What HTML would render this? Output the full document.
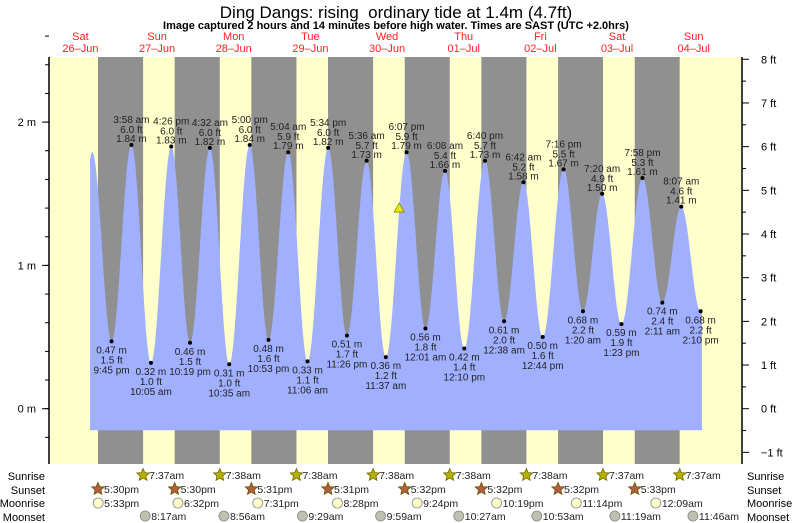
<!DOCTYPE html>
<html><head><meta charset="utf-8"><style>
body{margin:0;background:#fff}
svg{display:block;font-family:"Liberation Sans",sans-serif}
</style></head><body>
<svg id="c" width="793" height="523" viewBox="0 0 793 523">
<text x="396" y="18" font-size="17" text-anchor="middle">Ding Dangs: rising &#160;ordinary tide at 1.4m (4.7ft)</text>
<text x="396" y="29" font-size="11" font-weight="bold" text-anchor="middle">Image captured 2 hours and 14 minutes before high water. Times are SAST (UTC +2.0hrs)</text>
<g id="bg"></g><g id="water"></g><g id="labels"></g><g id="axes"></g><g id="astro"></g>
</svg>
<script>
// hours since Sat 26-Jun 00:00
const dayNames=["Sat","Sun","Mon","Tue","Wed","Thu","Fri","Sat","Sun"];
const dayDates=["26\u2013Jun","27\u2013Jun","28\u2013Jun","29\u2013Jun","30\u2013Jun","01\u2013Jul","02\u2013Jul","03\u2013Jul","04\u2013Jul"];
const tideTimes=["Sat 9:40 am","Sat 3:42 pm","9:45 pm","3:58 am","10:05 am","4:26 pm","10:19 pm","4:32 am","10:35 am","5:00 pm","10:53 pm","5:04 am","11:06 am","5:34 pm","11:26 pm","5:36 am","11:37 am","6:07 pm","12:01 am","6:08 am","12:10 pm","6:40 pm","12:38 am","6:42 am","12:44 pm","7:16 pm","1:20 am","7:20 am","1:23 pm","7:58 pm","2:11 am","8:07 am","2:10 pm","8:30 pm"];
const tideDay=[0,0,0,1,1,1,1,2,2,2,2,3,3,3,3,4,4,4,5,5,5,5,6,6,6,6,7,7,7,7,8,8,8,8];
const tideM=[0.33,1.79,0.47,1.84,0.32,1.83,0.46,1.82,0.31,1.84,0.48,1.79,0.33,1.82,0.51,1.73,0.36,1.79,0.56,1.66,0.42,1.73,0.61,1.58,0.50,1.67,0.68,1.50,0.59,1.61,0.74,1.41,0.68,1.6];
const tideFt=["","","1.5","6.0","1.0","6.0","1.5","6.0","1.0","6.0","1.6","5.9","1.1","6.0","1.7","5.7","1.2","5.9","1.8","5.4","1.4","5.7","2.0","5.2","1.6","5.5","2.2","4.9","1.9","5.3","2.4","4.6","2.2",""];
const sunriseT=["7:37am","7:38am","7:38am","7:38am","7:38am","7:38am","7:37am","7:37am"];
const sunriseD=[1,2,3,4,5,6,7,8];
const sunsetT=["5:30pm","5:30pm","5:31pm","5:31pm","5:32pm","5:32pm","5:32pm","5:33pm"];
const sunsetD=[0,1,2,3,4,5,6,7];
const moonriseT=["5:33pm","6:32pm","7:31pm","8:28pm","9:24pm","10:19pm","11:14pm","12:09am"];
const moonriseD=[0,1,2,3,4,5,6,8];
const moonsetT=["8:17am","8:56am","9:29am","9:59am","10:27am","10:53am","11:19am","11:46am"];
const moonsetD=[1,2,3,4,5,6,7,8];
const mTicks=[0,1,2];
const ftTicks=[-1,0,1,2,3,4,5,6,7,8];
const curStart=15.0, curEnd=206.6, nowH=111.8, nowM=1.4;

const NS="http://www.w3.org/2000/svg";
const L=49,R=742,T=57,B=464;
function X(h){return 98+(h-17.5)*3.194;}
function Y(m){return 408.7-m*143.3;}
function parseT(s){const p=s.replace(/^\w+ /,'').match(/(\d+):(\d+)\s*(am|pm)/);let hh=+p[1]%12;if(p[3]=='pm')hh+=12;return hh+(+p[2])/60;}
function el(tag,a,par){const e=document.createElementNS(NS,tag);for(const k in a)e.setAttribute(k,a[k]);document.getElementById(par).appendChild(e);return e;}
function tx(x,y,s,a,par,size,fill){const e=el('text',Object.assign({x:x,y:y,'font-size':size||10,fill:fill||'#000'},a||{}),par);e.textContent=s;return e;}

// background
let r=el('rect',{x:L,y:T,width:R-L,height:B-T,fill:'#ffffcc'},'bg');


for(let i=0;i<sunsetD.length;i++){
  const x1=X(sunsetD[i]*24+parseT(sunsetT[i])),x2=X(sunriseD[i]*24+parseT(sunriseT[i]));
  const n=el('rect',{x:x1,y:T,width:x2-x1,height:B-T,fill:'#909090'},'bg');
  
  
}
for(let i=0;i<dayNames.length;i++){
  const x=X(i*24+12);
  const a=tx(x,40,dayNames[i],{'text-anchor':'middle'},'bg',11,'#ff2020');
  
  
  const b=tx(x,52,dayDates[i],{'text-anchor':'middle'},'bg',11,'#ff2020');
  
  
}
// tide curve
const th=tideTimes.map((s,i)=>tideDay[i]*24+parseT(s));
function level(h){for(let i=0;i<th.length-1;i++){if(h>=th[i]&&h<=th[i+1]){const f=(h-th[i])/(th[i+1]-th[i]);return tideM[i]+(tideM[i+1]-tideM[i])*(1-Math.cos(Math.PI*f))/2;}}return tideM[tideM.length-1];}
let d='M'+X(curStart)+','+Y(-0.15);
for(let h=curStart;h<=curEnd;h+=0.1)d+=' L'+X(h).toFixed(1)+','+Y(level(h)).toFixed(1);
d+=' L'+X(curEnd)+','+Y(level(curEnd))+' L'+X(curEnd)+','+Y(-0.15)+'Z';
const w=el('path',{d:d,fill:'#a0b0ff'},'water');


// labels
for(let i=2;i<th.length-1;i++){
  const x=X(th[i]),y=Y(tideM[i]);
  const dot=el('circle',{cx:x,cy:y,r:2,fill:'#000'},'labels');
  
  
  const high=tideM[i]>1;
  const ts=tideTimes[i].replace(/^\w+ /,'');
  const lines=high?[[ts,-22],[tideFt[i]+' ft',-12],[tideM[i].toFixed(2)+' m',-3]]:[[tideM[i].toFixed(2)+' m',12],[tideFt[i]+' ft',22],[ts,32]];
  for(const [s,dy] of lines){const t=tx(x,y+dy,s,{'text-anchor':'middle'},'labels',10,'#222');
    
    }
}
const nx=X(nowH),ny=Y(nowM);
const tri=el('polygon',{points:`${nx-5},${ny+4} ${nx+5},${ny+4} ${nx},${ny-5}`,fill:'#e8e800',stroke:'#888800','stroke-width':0.8},'labels');


// axes
const al=el('line',{x1:L,y1:T,x2:L,y2:B,stroke:'#000','stroke-width':1.5},'axes');


const ar=el('line',{x1:R,y1:T,x2:R,y2:B,stroke:'#000','stroke-width':1.5},'axes');


for(let v=-0.2;v<=2.61;v+=0.2){const y=Y(v);const k=el('line',{x1:L-4,y1:y,x2:L,y2:y,stroke:'#000'},'axes');
  
  }
for(const v of mTicks){const y=Y(v);el('line',{x1:L-7,y1:y,x2:L,y2:y,stroke:'#000'},'axes');
  const t=tx(36,y+4,v+' m',{'text-anchor':'end'},'axes',11);
  
  }
for(let v=-1;v<=8;v+=0.5){const y=Y(v*0.3048);const big=Number.isInteger(v);
  const k=el('line',{x1:R,y1:y,x2:R+(big?7:4),y2:y,stroke:'#000'},'axes');
  
  }
for(const v of ftTicks){const y=Y(v*0.3048);
  const t=tx(761,y+4,(v<0?'\u2212'+(-v):v)+' ft',{},'axes',11);
  
  }
// astro rows
const rows=[['Sunrise',476],['Sunset',490],['Moonrise',503],['Moonset',517]];
for(const [n,y] of rows){
  const a=tx(45,y+4,n,{'text-anchor':'end'},'astro',11);
  
  
  const b=tx(747,y+4,n,{},'astro',11);
  
  
}
function star(x,y,fill,stroke){let p=[];for(let k=0;k<10;k++){const rr=k%2?3:6.5,a=-Math.PI/2+k*Math.PI/5;p.push((x+rr*Math.cos(a)).toFixed(1)+','+(y+rr*Math.sin(a)).toFixed(1));}
  return el('polygon',{points:p.join(' '),fill:fill,stroke:stroke,'stroke-width':0.8},'astro');}
function row(times,days,y,kind){for(let i=0;i<times.length;i++){const x=X(days[i]*24+parseT(times[i]));let ic;
  if(kind=='sunrise')ic=star(x,y,'#b8b000','#6a6a00');
  else if(kind=='sunset')ic=star(x,y,'#b06040','#6a5000');
  else ic=el('circle',{cx:x,cy:y,r:5,fill:kind=='moonrise'?'#ffffcc':'#c0c0b0',stroke:'#888','stroke-width':0.8},'astro');
  
  
  const t=tx(x+6,y+4,times[i],{},'astro',10.5,'#222');
  
  }}
row(sunriseT,sunriseD,475,'sunrise');
row(sunsetT,sunsetD,489,'sunset');
row(moonriseT,moonriseD,503,'moonrise');
row(moonsetT,moonsetD,516,'moonset');
</script>
</body></html>
